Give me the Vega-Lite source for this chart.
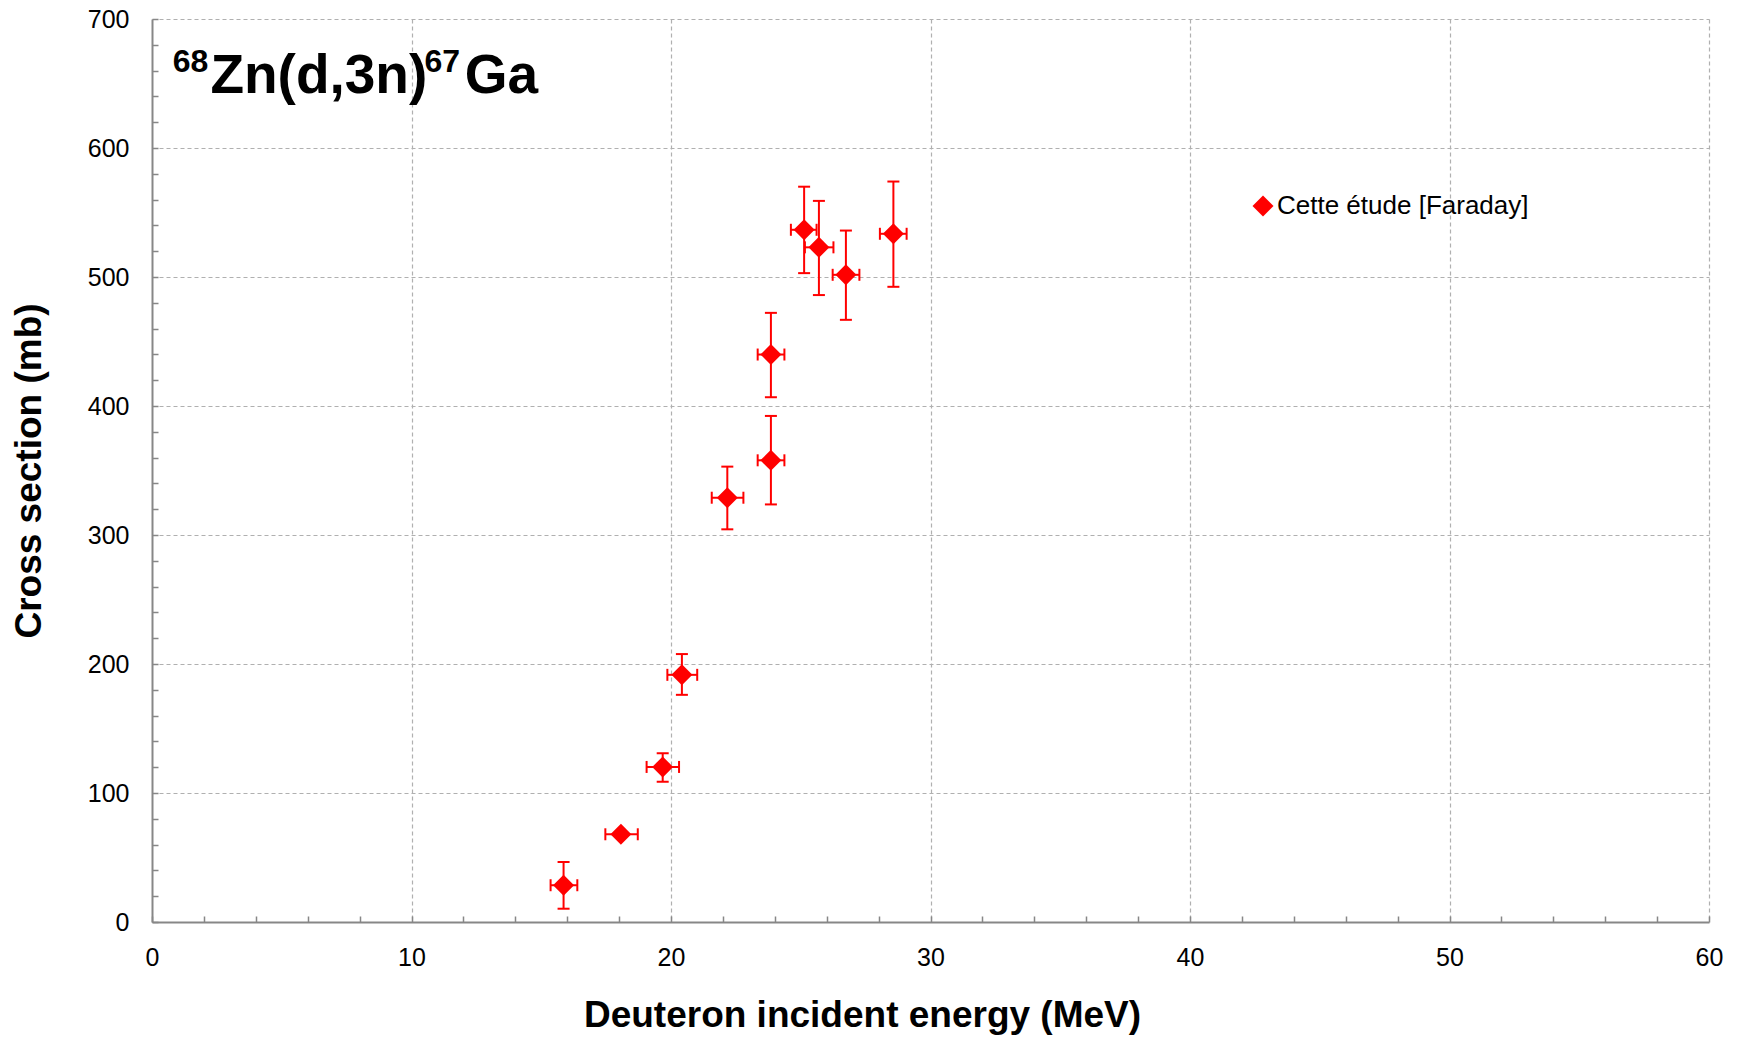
{
  "$schema": "https://vega.github.io/schema/vega-lite/v6.json",
  "width": 1557,
  "height": 903,
  "autosize": {"type": "none"},
  "padding": {"left": 152, "top": 19, "right": 28, "bottom": 115},
  "background": "white",
  "config": {"view": {"stroke": null}, "font": "Liberation Sans"},
  "data": {
    "values": [
      {"E": 15.86, "sigma": 28.5, "ylo": 10.3, "yhi": 46.5, "xlo": 15.36, "xhi": 16.39},
      {"E": 18.07, "sigma": 68, "ylo": null, "yhi": null, "xlo": 17.47, "xhi": 18.72},
      {"E": 19.68, "sigma": 120.2, "ylo": 108.8, "yhi": 130.9, "xlo": 19.06, "xhi": 20.31},
      {"E": 20.42, "sigma": 191.6, "ylo": 176.1, "yhi": 207.7, "xlo": 19.86, "xhi": 21.01},
      {"E": 22.17, "sigma": 328.9, "ylo": 304.4, "yhi": 353, "xlo": 21.57, "xhi": 22.79},
      {"E": 23.85, "sigma": 357.9, "ylo": 323.7, "yhi": 392.3, "xlo": 23.34, "xhi": 24.37},
      {"E": 23.85, "sigma": 439.9, "ylo": 406.8, "yhi": 472.2, "xlo": 23.34, "xhi": 24.37},
      {"E": 25.13, "sigma": 536.6, "ylo": 503, "yhi": 570, "xlo": 24.62, "xhi": 25.61},
      {"E": 25.7, "sigma": 523, "ylo": 486, "yhi": 559, "xlo": 25.16, "xhi": 26.26},
      {"E": 26.74, "sigma": 501.7, "ylo": 466.8, "yhi": 536, "xlo": 26.23, "xhi": 27.26},
      {"E": 28.57, "sigma": 533.5, "ylo": 492.4, "yhi": 574, "xlo": 28.05, "xhi": 29.08}
    ]
  },
  "layer": [
    {
      "mark": {"type": "rule", "color": "#ff0000", "strokeWidth": 2},
      "encoding": {
        "x": {
          "field": "E", "type": "quantitative",
          "scale": {"domain": [0, 60], "nice": false, "zero": false},
          "axis": {
            "title": "Deuteron incident energy (MeV)",
            "values": [0,2,4,6,8,10,12,14,16,18,20,22,24,26,28,30,32,34,36,38,40,42,44,46,48,50,52,54,56,58,60],
            "tickCount": 100,
            "format": "d",
            "labelExpr": "datum.value % 10 === 0 ? datum.label : ''",
            "labelOverlap": false,
            "labelFontSize": 25,
            "labelColor": "#000000",
            "labelPadding": 29,
            "labelFlush": false,
            "titleFontSize": 37,
            "titleFontWeight": "bold",
            "titleColor": "#000000",
            "titleX": 710,
            "titlePadding": 27,
            "domainColor": "#878787",
            "domainWidth": 2,
            "tickColor": "#878787",
            "tickWidth": 1.5,
            "tickSize": -6,
            "grid": true,
            "gridColor": "#b0b0b0",
            "gridDash": [4, 3],
            "gridWidth": 1.2,
            "gridOpacity": {"condition": {"test": "datum.value % 10 === 0 && datum.value > 0", "value": 1}, "value": 0}
          }
        },
        "y": {
          "field": "ylo", "type": "quantitative",
          "scale": {"domain": [0, 700], "nice": false},
          "axis": {
            "title": "Cross section (mb)",
            "values": [0,20,40,60,80,100,120,140,160,180,200,220,240,260,280,300,320,340,360,380,400,420,440,460,480,500,520,540,560,580,600,620,640,660,680,700],
            "tickCount": 100,
            "format": "d",
            "labelExpr": "datum.value % 100 === 0 ? datum.label : ''",
            "labelOverlap": false,
            "labelFontSize": 25,
            "labelColor": "#000000",
            "labelPadding": 29,
            "labelFlush": false,
            "titleFontSize": 37,
            "titleFontWeight": "bold",
            "titleColor": "#000000",
            "titlePadding": 39,
            "domainColor": "#878787",
            "domainWidth": 2,
            "tickColor": "#878787",
            "tickWidth": 1.5,
            "tickSize": -6,
            "grid": true,
            "gridColor": "#b0b0b0",
            "gridDash": [4, 3],
            "gridWidth": 1.2,
            "gridOpacity": {"condition": {"test": "datum.value % 100 === 0 && datum.value > 0", "value": 1}, "value": 0}
          }
        },
        "y2": {"field": "yhi"}
      }
    },
    {
      "mark": {"type": "rule", "color": "#ff0000", "strokeWidth": 2},
      "encoding": {
        "x": {"field": "xlo", "type": "quantitative"},
        "x2": {"field": "xhi"},
        "y": {"field": "sigma", "type": "quantitative"}
      }
    },
    {
      "mark": {"type": "tick", "orient": "horizontal", "size": 12, "thickness": 2, "color": "#ff0000", "opacity": 1},
      "encoding": {
        "x": {"field": "E", "type": "quantitative"},
        "y": {"field": "ylo", "type": "quantitative"}
      }
    },
    {
      "mark": {"type": "tick", "orient": "horizontal", "size": 12, "thickness": 2, "color": "#ff0000", "opacity": 1},
      "encoding": {
        "x": {"field": "E", "type": "quantitative"},
        "y": {"field": "yhi", "type": "quantitative"}
      }
    },
    {
      "mark": {"type": "tick", "orient": "vertical", "size": 12, "thickness": 2, "color": "#ff0000", "opacity": 1},
      "encoding": {
        "x": {"field": "xlo", "type": "quantitative"},
        "y": {"field": "sigma", "type": "quantitative"}
      }
    },
    {
      "mark": {"type": "tick", "orient": "vertical", "size": 12, "thickness": 2, "color": "#ff0000", "opacity": 1},
      "encoding": {
        "x": {"field": "xhi", "type": "quantitative"},
        "y": {"field": "sigma", "type": "quantitative"}
      }
    },
    {
      "mark": {"type": "point", "shape": "diamond", "filled": true, "size": 440, "opacity": 1},
      "encoding": {
        "x": {"field": "E", "type": "quantitative"},
        "y": {"field": "sigma", "type": "quantitative"},
        "color": {
          "datum": "Cette étude [Faraday]",
          "type": "nominal",
          "scale": {"range": ["#ff0000"]},
          "legend": {
            "orient": "none",
            "legendX": 1098,
            "legendY": 174,
            "title": null,
            "symbolType": "diamond",
            "symbolSize": 440,
            "symbolStrokeWidth": 0,
            "labelFontSize": 26,
            "labelColor": "#000000",
            "labelLimit": 500,
            "labelOffset": 1,
            "padding": 0
          }
        }
      }
    },
    {
      "data": {"values": [{}]},
      "mark": {"type": "text", "text": "68", "align": "left", "baseline": "alphabetic", "fontWeight": "bold", "fontSize": 32, "color": "#000000"},
      "encoding": {"x": {"datum": 0.8, "type": "quantitative"}, "y": {"datum": 659, "type": "quantitative"}}
    },
    {
      "data": {"values": [{}]},
      "mark": {"type": "text", "text": "Zn(d,3n)", "align": "left", "baseline": "alphabetic", "fontWeight": "bold", "fontSize": 55, "color": "#000000"},
      "encoding": {"x": {"datum": 2.25, "type": "quantitative"}, "y": {"datum": 643, "type": "quantitative"}}
    },
    {
      "data": {"values": [{}]},
      "mark": {"type": "text", "text": "67", "align": "left", "baseline": "alphabetic", "fontWeight": "bold", "fontSize": 32, "color": "#000000"},
      "encoding": {"x": {"datum": 10.5, "type": "quantitative"}, "y": {"datum": 659, "type": "quantitative"}}
    },
    {
      "data": {"values": [{}]},
      "mark": {"type": "text", "text": "Ga", "align": "left", "baseline": "alphabetic", "fontWeight": "bold", "fontSize": 55, "color": "#000000"},
      "encoding": {"x": {"datum": 12.05, "type": "quantitative"}, "y": {"datum": 643, "type": "quantitative"}}
    }
  ]
}
